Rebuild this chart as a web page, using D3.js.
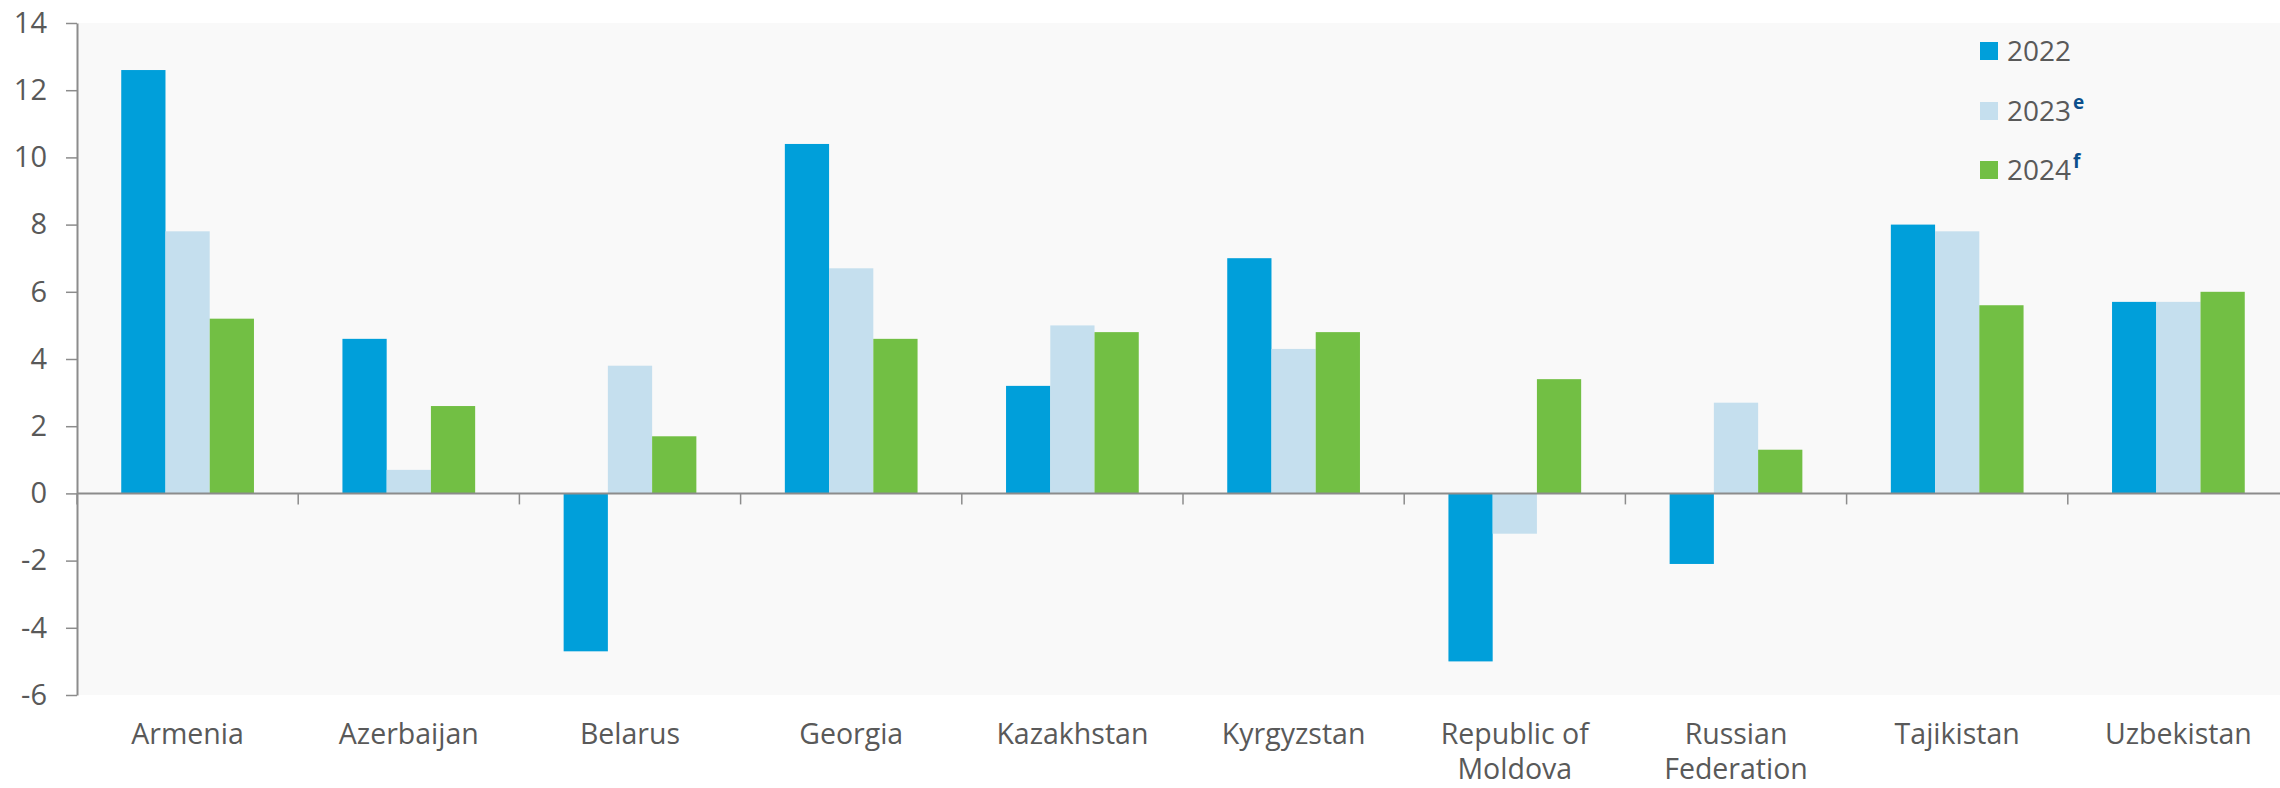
<!DOCTYPE html>
<html>
<head>
<meta charset="utf-8">
<script src="https://cdn.jsdelivr.net/npm/d3@7"></script>
<style>
  html, body { margin: 0; padding: 0; background: #ffffff; }
  svg { display: block; font-family: "Open Sans", sans-serif; }
</style>
</head>
<body>
<svg id="chart" width="2280" height="788"></svg>
<script>
// Real GDP growth, per cent
const categories = ["Armenia", "Azerbaijan", "Belarus", "Georgia", "Kazakhstan",
  "Kyrgyzstan", "Republic of Moldova", "Russian Federation", "Tajikistan", "Uzbekistan"];
const categoryLines = [["Armenia"], ["Azerbaijan"], ["Belarus"], ["Georgia"], ["Kazakhstan"],
  ["Kyrgyzstan"], ["Republic of", "Moldova"], ["Russian", "Federation"], ["Tajikistan"], ["Uzbekistan"]];
const seriesNames = ["2022", "2023", "2024"];
const seriesSup = ["", "e", "f"];
const values2022 = [12.6, 4.6, -4.7, 10.4, 3.2, 7.0, -5.0, -2.1, 8.0, 5.7];
const values2023 = [7.8, 0.7, 3.8, 6.7, 5.0, 4.3, -1.2, 2.7, 7.8, 5.7];
const values2024 = [5.2, 2.6, 1.7, 4.6, 4.8, 4.8, 3.4, 1.3, 5.6, 6.0];
const yTicks = [-6, -4, -2, 0, 2, 4, 6, 8, 10, 12, 14];

const seriesValues = [values2022, values2023, values2024];
const colors = ["#009fda", "#c5dfee", "#72bf44"];

const svg = d3.select("#chart");
const plotLeft = 77, plotRight = 2289, plotTop = 23, plotBottom = 695;

const x0 = d3.scaleBand().domain(categories).range([plotLeft, plotRight]).padding(0);
const step = x0.bandwidth();
const x1 = d3.scaleBand().domain(seriesNames).range([step * 0.2, step * 0.8]).padding(0);
const y = d3.scaleLinear().domain([-6, 14]).range([plotBottom, plotTop]);

// plot background
svg.append("rect")
  .attr("x", plotLeft).attr("y", plotTop)
  .attr("width", plotRight - plotLeft).attr("height", plotBottom - plotTop)
  .attr("fill", "#f9f9f9");

// bars
const groups = svg.append("g").selectAll("g")
  .data(categories)
  .join("g")
  .attr("transform", d => `translate(${x0(d)},0)`);

groups.selectAll("rect")
  .data((c, ci) => seriesNames.map((s, si) => ({ s, si, v: seriesValues[si][ci] })))
  .join("rect")
  .attr("x", d => x1(d.s))
  .attr("width", x1.bandwidth())
  .attr("y", d => y(Math.max(0, d.v)))
  .attr("height", d => Math.abs(y(d.v) - y(0)))
  .attr("fill", d => colors[d.si]);

// y axis (plain hyphen for negatives)
const yAxis = svg.append("g")
  .attr("transform", `translate(${plotLeft},0)`)
  .call(d3.axisLeft(y).tickValues(yTicks).tickSize(11).tickSizeOuter(0).tickPadding(19)
    .tickFormat(d => String(d)));
yAxis.select(".domain").attr("stroke", "#8c8c8c").attr("stroke-width", 2);
yAxis.selectAll(".tick line").attr("stroke", "#8c8c8c").attr("stroke-width", 1.5);
yAxis.selectAll(".tick text")
  .attr("fill", "#595959")
  .style("font-size", "29px")
  .style("font-family", "'Open Sans', sans-serif");

// category axis along zero line
const boundaries = categories.map(c => x0(c));
const xAxis = svg.append("g");
xAxis.append("line")
  .attr("x1", plotLeft).attr("x2", plotRight)
  .attr("y1", y(0)).attr("y2", y(0))
  .attr("stroke", "#8c8c8c").attr("stroke-width", 2);
xAxis.selectAll("line.tk")
  .data(boundaries)
  .join("line")
  .attr("class", "tk")
  .attr("x1", d => d).attr("x2", d => d)
  .attr("y1", y(0)).attr("y2", y(0) + 11)
  .attr("stroke", "#8c8c8c").attr("stroke-width", 1.5);

// category labels
const labels = svg.append("g").selectAll("text")
  .data(categories)
  .join("text")
  .attr("x", d => x0(d) + step / 2)
  .attr("y", 744)
  .attr("text-anchor", "middle")
  .attr("fill", "#595959")
  .style("font-size", "28.5px");
labels.each(function (d, i) {
  const t = d3.select(this);
  categoryLines[i].forEach((line, li) => {
    t.append("tspan")
      .attr("x", x0(d) + step / 2)
      .attr("dy", li === 0 ? 0 : 35)
      .text(line);
  });
});

// legend
const legendRows = [51, 111, 170];
const legend = svg.append("g");
seriesNames.forEach((s, i) => {
  legend.append("rect")
    .attr("x", 1980).attr("y", legendRows[i] - 9)
    .attr("width", 18).attr("height", 18)
    .attr("fill", colors[i]);
  const t = legend.append("text")
    .attr("x", 2007).attr("y", legendRows[i] + 10)
    .attr("fill", "#595959")
    .style("font-size", "28px");
  t.append("tspan").text(s);
  if (seriesSup[i]) {
    t.append("tspan")
      .attr("dx", 2)
      .attr("dy", -12)
      .attr("fill", "#0b4f8c")
      .style("font-size", "19px")
      .style("font-weight", "bold")
      .text(seriesSup[i]);
  }
});
</script>
</body>
</html>
